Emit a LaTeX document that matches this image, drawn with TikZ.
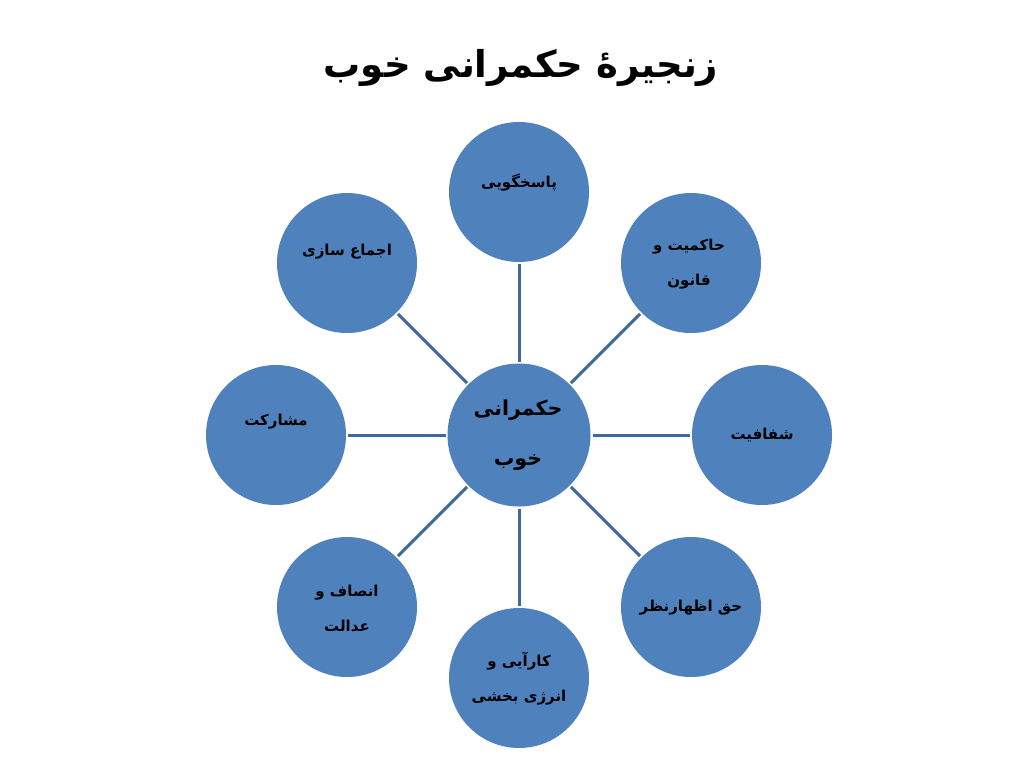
\documentclass[tikz,border=0pt]{standalone}
\usepackage{fontspec}
\newfontfamily\arabicfont[Script=Arabic]{DejaVu Sans}
\TeXXeTstate=1
\definecolor{cfill}{HTML}{4F81BD}
\definecolor{cline}{HTML}{41689A}
\begin{document}
\begin{tikzpicture}[x=1pt,y=-1pt,
  bubble/.style={circle,fill=cfill,minimum size=140pt,inner sep=0pt,outer sep=2pt},
  hub/.style={circle,fill=cfill,minimum size=143pt,inner sep=0pt,outer sep=2pt},
  spoke/.style={draw=cline,line width=3pt},
  lbl/.style={font=\arabicfont\bfseries\fontsize{15}{35}\selectfont,align=center,text=black,inner sep=0pt},
  hublbl/.style={font=\arabicfont\bfseries\fontsize{20.5}{50}\selectfont,align=center,text=black,inner sep=0pt},
  titlestyle/.style={font=\arabicfont\bfseries\fontsize{37}{46}\selectfont,text=black,inner sep=0pt}
]
\useasboundingbox[fill=white] (0,0) rectangle (1024,768);

\node[titlestyle] (title) at (521,68) {\beginR زنجیرهٔ حکمرانی خوب\endR};

\node[hub] (c) at (519,435) {};
\node[bubble] (n1) at (519,192) {};
\node[bubble] (n2) at (691,263) {};
\node[bubble] (n3) at (762,435) {};
\node[bubble] (n4) at (691,607) {};
\node[bubble] (n5) at (519,678) {};
\node[bubble] (n6) at (347,607) {};
\node[bubble] (n7) at (276,435) {};
\node[bubble] (n8) at (347,263) {};

\foreach \n in {n1,n2,n3,n4,n5,n6,n7,n8}
  \draw[spoke] (c) -- (\n);

\node[hublbl] (tc) at (518,435) {\beginR حکمرانی\endR\\\beginR خوب\endR};
\node[lbl] (t1) at (519,183) {\beginR پاسخگویی\endR};
\node[lbl] (t2) at (689,264) {\beginR حاکمیت و\endR\\\beginR قانون\endR};
\node[lbl] (t3) at (762,435) {\beginR شفافیت\endR};
\node[lbl] (t4) at (691,608) {\beginR حق اظهارنظر\endR};
\node[lbl] (t5) at (519,679) {\beginR کارآیی و\endR\\\beginR انرژی بخشی\endR};
\node[lbl] (t6) at (347,608) {\beginR انصاف و\endR\\\beginR عدالت\endR};
\node[lbl] (t7) at (276,422) {\beginR مشارکت\endR};
\node[lbl] (t8) at (347,252) {\beginR اجماع سازی\endR};
\end{tikzpicture}
\end{document}
